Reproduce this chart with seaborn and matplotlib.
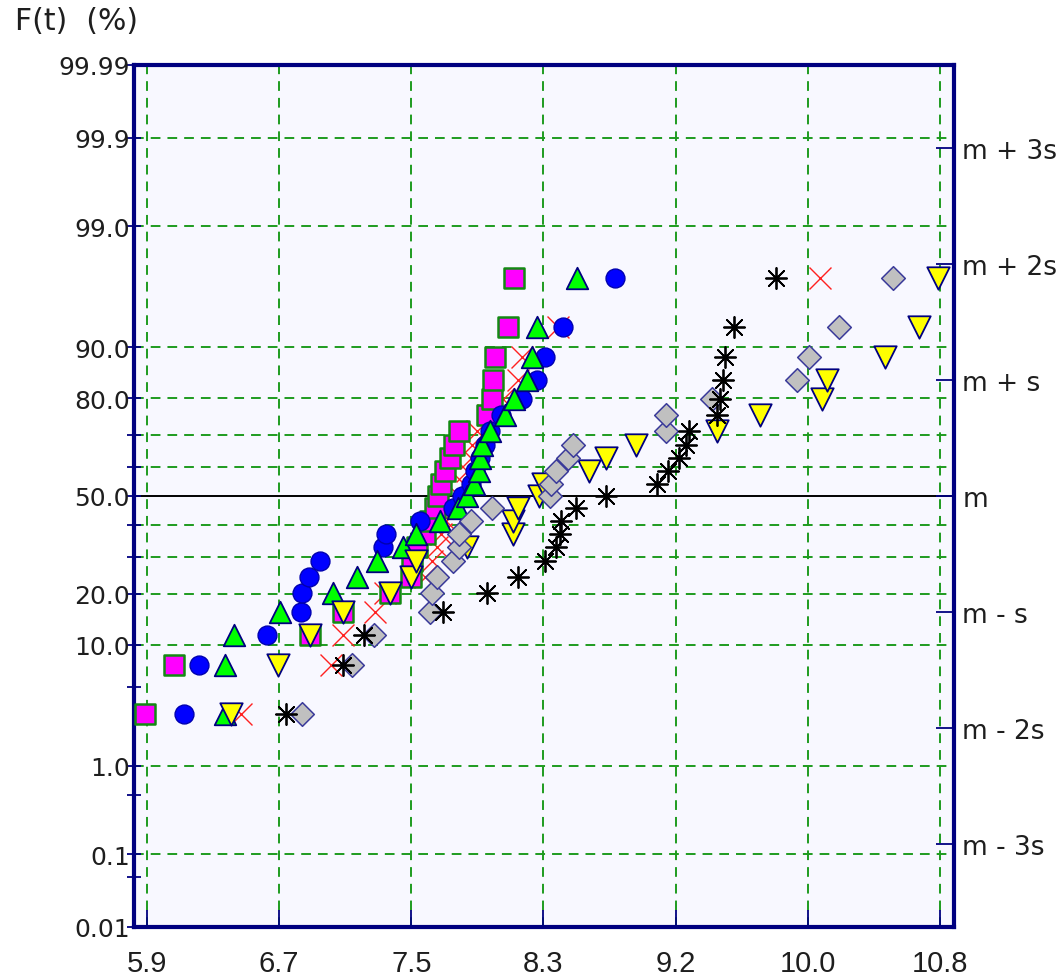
import numpy as np
import pandas as pd
import matplotlib
matplotlib.use("Agg")
import matplotlib.pyplot as plt
import seaborn as sns
from matplotlib import font_manager
from statistics import NormalDist

# Cumulative failure probability F(t) in % (median ranks, 23 units per sample)
F_PCT = [2.99, 7.26, 11.54, 15.81, 20.09, 24.36, 28.63, 32.91, 37.18, 41.45,
         45.73, 50.00, 54.27, 58.55, 62.82, 67.09, 71.37, 75.64, 79.91, 84.19,
         88.46, 92.74, 97.01]

# Ordered times to failure of each sample
T_SQUARE = [5.89, 6.07, 6.91, 7.11, 7.40, 7.53, 7.54, 7.57, 7.62, 7.65, 7.68, 7.70,
            7.72, 7.74, 7.77, 7.80, 7.83, 8.00, 8.03, 8.04, 8.05, 8.13, 8.17]
T_TRIANGLE = [6.38, 6.38, 6.44, 6.72, 7.05, 7.20, 7.32, 7.48, 7.56, 7.71, 7.82, 7.88,
              7.92, 7.95, 7.96, 7.97, 8.02, 8.11, 8.17, 8.25, 8.28, 8.31, 8.56]
T_CIRCLE = [6.13, 6.22, 6.64, 6.85, 6.86, 6.90, 6.97, 7.36, 7.38, 7.59, 7.79, 7.85,
            7.90, 7.93, 7.96, 7.99, 8.02, 8.09, 8.22, 8.31, 8.36, 8.47, 8.79]
T_CROSS = [6.48, 7.04, 7.11, 7.31, 7.37, 7.62, 7.66, 7.69, 7.72, 7.75, 7.81, 7.83,
           7.86, 7.88, 7.90, 7.91, 7.94, 8.01, 8.10, 8.19, 8.22, 8.44, 10.06]
T_STAR = [6.76, 7.11, 7.24, 7.73, 8.00, 8.19, 8.36, 8.43, 8.45, 8.46, 8.55, 8.74,
          9.05, 9.12, 9.19, 9.23, 9.25, 9.42, 9.44, 9.46, 9.47, 9.53, 9.79]
T_DIAMOND = [6.86, 7.17, 7.30, 7.65, 7.66, 7.69, 7.79, 7.83, 7.83, 7.90, 8.03, 8.39,
             8.40, 8.43, 8.50, 8.53, 9.11, 9.11, 9.39, 9.92, 9.99, 10.18, 10.51]
T_DOWN = [6.42, 6.71, 6.91, 7.11, 7.40, 7.53, 7.56, 7.88, 8.16, 8.16, 8.19, 8.32,
          8.35, 8.63, 8.74, 8.92, 9.42, 9.69, 10.07, 10.10, 10.46, 10.67, 10.79]

X_TICK_LABELS = ["5.9", "6.7", "7.5", "8.3", "9.2", "10.0", "10.8"]
Y_MAJOR = [0.01, 0.1, 1.0, 10.0, 20.0, 50.0, 80.0, 90.0, 99.0, 99.9, 99.99]
Y_MAJOR_LABELS = ["0.01", "0.1", "1.0", "10.0", "20.0", "50.0", "80.0", "90.0",
                  "99.0", "99.9", "99.99"]
Y_MINOR = [0.05, 0.5, 5.0, 30.0, 40.0, 60.0, 70.0]
Y_GRID = [0.1, 1.0, 10.0, 20.0, 30.0, 40.0, 60.0, 70.0, 80.0, 90.0, 99.0, 99.9]
SIGMA_STEPS = [-3, -2, -1, 0, 1, 2, 3]
SIGMA_LABELS = ["m - 3s", "m - 2s", "m - s", "m", "m + s", "m + 2s", "m + 3s"]

# Normal probability scale for the F(t) axis
_nd = NormalDist()
_inv = np.vectorize(_nd.inv_cdf, otypes=[float])
_cdf = np.vectorize(_nd.cdf, otypes=[float])


def pct_to_z(p):
    p = np.clip(np.asarray(p, dtype=float), 1e-7, 100 - 1e-7) / 100.0
    return _inv(p)


def z_to_pct(z):
    return _cdf(np.asarray(z, dtype=float)) * 100.0


_installed = {f.name for f in font_manager.fontManager.ttflist}
NARROW = "Liberation Sans Narrow" if "Liberation Sans Narrow" in _installed else "Liberation Sans"

NAVY = "#000080"
GRID_GREEN = "#1f9b1f"
TEXT = "#1e1e1e"

fig = plt.figure(figsize=(10.63, 9.79), dpi=100)
fig.patch.set_facecolor("white")
ax = fig.add_axes([0.1261, 0.0521, 0.7714, 0.8805])
ax.set_facecolor("#F8F8FF")
ax.set_yscale("function", functions=(pct_to_z, z_to_pct))

# Grid
x_ticks = np.linspace(5.9, 10.8, len(X_TICK_LABELS))
dash = (0, (5, 3.6))
for xv in x_ticks:
    ax.axvline(xv, color=GRID_GREEN, lw=1.4, ls=dash, zorder=1)
for yv in Y_GRID:
    ax.axhline(yv, color=GRID_GREEN, lw=1.4, ls=dash, zorder=1)
ax.axhline(50.0, color="black", lw=1.4, zorder=1.5)

# Samples (drawing order controls overlap)
samples = [
    (T_CROSS, "x", "#FF2020", None, 250, 1.0),
    (T_SQUARE, "s", "#FF00FF", "#138a13", 215, 1.8),
    (T_CIRCLE, "o", "#0000FF", "#0000B0", 185, 1.0),
    (T_TRIANGLE, "^", "#00FF00", NAVY, 240, 1.3),
    (T_DOWN, "v", "#FFFF00", NAVY, 260, 1.3),
    (T_DIAMOND, "D", "#C0C0C0", "#3A3A9A", 145, 1.1),
    (T_STAR, (8, 2, 0), "black", None, 230, 1.3),
]
for k, (t, marker, face, edge, size, lw) in enumerate(samples):
    kws = dict(x=t, y=F_PCT, marker=marker, color=face, s=size, linewidth=lw,
               ax=ax, legend=False, zorder=3 + k)
    if edge is not None:
        kws["edgecolor"] = edge
    sns.scatterplot(**kws)

ax.set_xlim(5.82, 10.888)
ax.set_ylim(0.01, 99.99)
ax.set_xlabel("")
ax.set_ylabel("")

ax.set_xticks(x_ticks)
ax.set_xticklabels(X_TICK_LABELS, fontfamily=NARROW, fontsize=21, color=TEXT)
ax.set_yticks(Y_MAJOR)
ax.set_yticklabels(Y_MAJOR_LABELS, fontsize=18, color=TEXT)
ax.set_yticks(Y_MINOR, minor=True)
ax.tick_params(axis="x", direction="in", length=12, width=1.3, color=NAVY, pad=16)
ax.tick_params(axis="y", which="major", direction="inout", length=10, width=1.3,
               color=NAVY, pad=-2)
ax.tick_params(axis="y", which="minor", direction="inout", length=10, width=1.3,
               color=NAVY)
for s in ax.spines.values():
    s.set_color(NAVY)
    s.set_linewidth(3)

# Sigma axis on the right
ax2 = ax.twinx()
ax2.set_yscale("function", functions=(pct_to_z, z_to_pct))
ax2.set_ylim(0.01, 99.99)
ax2.set_yticks(list(z_to_pct(SIGMA_STEPS)))
ax2.set_yticklabels(SIGMA_LABELS, fontsize=19, color=TEXT)
ax2.set_yticks([], minor=True)
ax2.tick_params(axis="y", direction="in", length=13, width=1.3, color=NAVY, pad=6)
for s in ax2.spines.values():
    s.set_visible(False)

fig.text(15 / 1063, 1 - 22 / 979, "F(t)  (%)", ha="left", va="center",
         fontsize=21.5, color=TEXT)

fig.savefig("out.png", dpi=100, facecolor="white")
